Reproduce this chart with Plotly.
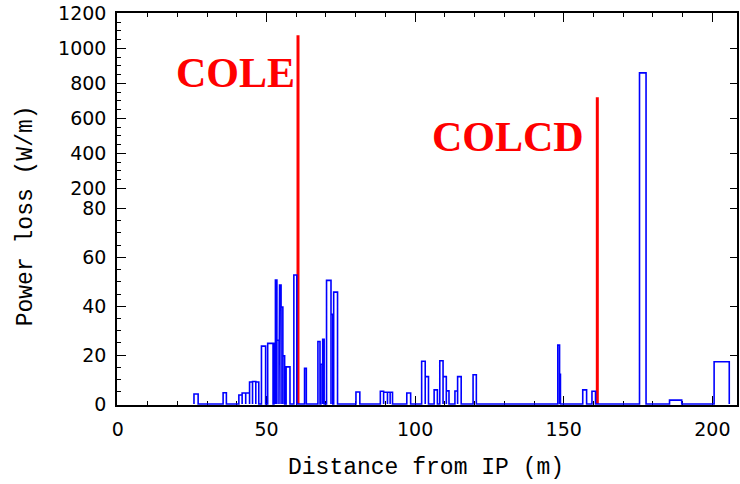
import plotly.graph_objects as go

# ---- data ----
bar_start = [25.6, 35.4, 40.7, 41.8, 43.0, 44.3, 45.3, 46.4, 48.3, 50.4,
             52.5, 53.0, 53.5, 54.4, 54.9, 55.5, 56.6, 59.2, 62.8, 67.3,
             68.3, 68.9, 70.2, 71.7, 72.6, 80.1, 88.3, 89.4, 90.7, 91.6,
             97.2, 102.2, 103.4, 106.4, 108.3, 109.4, 110.5, 113.4, 114.3, 119.5,
             148.0, 148.6, 156.4, 159.5, 175.5, 185.6, 200.6]
bar_end = [27.0, 36.5, 41.8, 43.0, 44.3, 45.3, 46.4, 47.4, 49.7, 52.2,
           53.0, 53.5, 54.2, 54.9, 55.5, 56.1, 57.9, 60.2, 63.4, 68.0,
           68.9, 69.4, 71.7, 72.3, 73.9, 81.4, 89.4, 90.7, 91.6, 92.4,
           98.5, 103.4, 104.5, 107.5, 109.4, 110.5, 111.4, 114.3, 115.5, 120.6,
           148.6, 148.9, 157.7, 160.7, 177.7, 189.7, 205.7]
bar_value = [4.1, 4.6, 3.7, 4.5, 4.5, 9.0, 9.2, 9.0, 23.7, 24.8,
             24.8, 50.7, 26.1, 48.7, 39.7, 19.7, 15.2, 52.8, 14.6, 25.6,
             16.3, 26.5, 50.6, 36.7, 45.8, 4.9, 5.2, 4.8, 4.8, 4.8,
             4.5, 17.5, 11.2, 5.8, 17.7, 11.2, 5.4, 5.3, 11.2, 12.0,
             24.1, 12.2, 5.8, 5.2, 860.0, 1.6, 17.3]

coll_names = ["COLE", "COLCD"]
coll_pos = [60.6, 161.3]
coll_value = [1075.0, 720.0]

x_major = [0, 50, 100, 150, 200]
y_low_ticks = [0, 20, 40, 60, 80]
y_high_ticks = [200, 400, 600, 800, 1000, 1200]

# ---- broken y scale: 0-80 linear, 200-1200 compressed ----
LOW_MAX, HIGH_MIN = 80.0, 200.0
GAP = 8.26
K = 0.0716


def tf(v):
    if v <= LOW_MAX:
        return v
    if v >= HIGH_MIN:
        return LOW_MAX + GAP + (v - HIGH_MIN) * K
    return LOW_MAX + (v - LOW_MAX) * GAP / (HIGH_MIN - LOW_MAX)


# step outline of the bars
sx, sy = [], []
for s, e, v in zip(bar_start, bar_end, bar_value):
    sx += [s, s, e, e]
    sy += [0, tf(v), tf(v), 0]

fig = go.Figure()

for p, v in zip(coll_pos, coll_value):
    fig.add_trace(go.Scatter(x=[p, p], y=[0, tf(v)], mode="lines",
                             line=dict(color="#ff0000", width=3),
                             showlegend=False, hoverinfo="skip"))

fig.add_trace(go.Scatter(x=sx, y=sy, mode="lines",
                         line=dict(color="#0000ff", width=1.6),
                         showlegend=False, hoverinfo="skip"))

# invisible trace to carry the right-hand tick axis
fig.add_trace(go.Scatter(x=[0], y=[0], yaxis="y2", mode="markers",
                         marker=dict(opacity=0), showlegend=False,
                         hoverinfo="skip"))

yr = [-0.4, 160.0]
y_major_vals = [tf(v) for v in y_low_ticks + y_high_ticks]
y_major_text = [str(v) for v in y_low_ticks + y_high_ticks]
y_minor_vals = [tf(v) for v in range(5, 80, 5) if v % 20] + \
               [tf(v) for v in range(250, 1200, 50) if v % 200]
x_minor_vals = [v for v in range(10, 201, 10) if v % 50]

tickfont = dict(family="DejaVu Sans", size=19, color="black")

fig.update_layout(
    width=740, height=484,
    margin=dict(l=117, r=1, t=13, b=79),
    paper_bgcolor="white", plot_bgcolor="white",
    xaxis=dict(range=[-0.3, 208.3], showgrid=False, zeroline=False,
               showline=True, linecolor="black", linewidth=1.5, mirror="ticks",
               ticks="inside", ticklen=9, tickwidth=1.2, tickcolor="black",
               tickvals=x_major, ticktext=[str(v) for v in x_major],
               tickfont=tickfont, ticklabelstandoff=6,
               minor=dict(tickvals=x_minor_vals, ticks="inside", ticklen=4,
                          tickwidth=1.2, tickcolor="black", showgrid=False),
               layer="below traces"),
    yaxis=dict(range=yr, showgrid=False, zeroline=False,
               showline=True, linecolor="black", linewidth=1.5, mirror=True,
               ticks="inside", ticklen=9, tickwidth=1.2, tickcolor="black",
               tickvals=y_major_vals, ticktext=y_major_text,
               tickfont=tickfont, ticklabelstandoff=5,
               minor=dict(tickvals=y_minor_vals, ticks="inside", ticklen=4,
                          tickwidth=1.2, tickcolor="black", showgrid=False),
               layer="below traces"),
    yaxis2=dict(range=yr, overlaying="y", side="right", showgrid=False,
                zeroline=False, showline=False, showticklabels=False,
                ticks="inside", ticklen=7, tickwidth=1.2, tickcolor="black",
                tickvals=y_major_vals),
    annotations=[
        dict(text="Power loss (W/m)", xref="paper", yref="paper",
             x=(26 - 117) / 622, y=(405 - 216) / 392, xanchor="center",
             yanchor="middle", textangle=-90, showarrow=False,
             font=dict(family="Liberation Mono", size=23, color="black")),
        dict(text="Distance from IP (m)", xref="paper", yref="paper",
             x=(426.5 - 117) / 622, y=(405 - 468) / 392, xanchor="center",
             yanchor="middle", showarrow=False,
             font=dict(family="Liberation Mono", size=23, color="black")),
        dict(text="<b>" + coll_names[0] + "</b>", xref="x", yref="paper",
             x=60.3, y=(405 - 73) / 392, xanchor="right", yanchor="middle",
             showarrow=False,
             font=dict(family="Liberation Serif", size=42, color="#ff0000")),
        dict(text="<b>" + coll_names[1] + "</b>", xref="x", yref="paper",
             x=157.6, y=(405 - 137) / 392, xanchor="right", yanchor="middle",
             showarrow=False,
             font=dict(family="Liberation Serif", size=42, color="#ff0000")),
    ],
)

fig.write_html("out.html")
